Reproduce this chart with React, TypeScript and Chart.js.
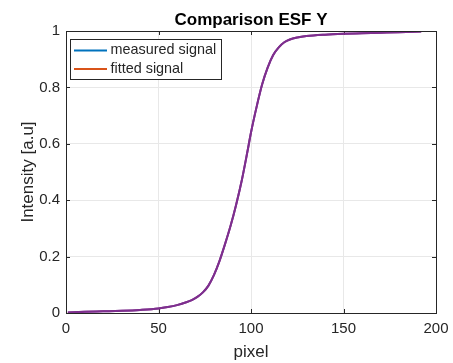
import React, { useEffect, useRef } from "react";
import { Chart, registerables } from "chart.js";

Chart.register(...registerables);

const titleText = "Comparison ESF Y";
const xLabel = "pixel";
const yLabel = "Intensity [a.u]";
const seriesNames = ["measured signal", "fitted signal"];
const legendColors = ["#0072BD", "#D95319"];
const lineColor = "#7E2F8E";

const pixelX = [1, 10, 20, 30, 40, 50, 55, 60, 65, 68, 71, 74, 77, 80, 83, 86, 89, 92, 95, 98, 100, 103, 106, 109, 112, 115, 118, 121, 125, 130, 140, 150, 160, 170, 180, 192];
const measured = [0.002, 0.004, 0.006, 0.008, 0.011, 0.016, 0.021, 0.028, 0.038, 0.046, 0.057, 0.073, 0.097, 0.135, 0.185, 0.245, 0.31, 0.385, 0.47, 0.57, 0.64, 0.73, 0.81, 0.87, 0.915, 0.942, 0.96, 0.97, 0.977, 0.982, 0.987, 0.99, 0.992, 0.994, 0.996, 0.998];
const fitted = [0.002, 0.004, 0.006, 0.008, 0.011, 0.016, 0.021, 0.028, 0.038, 0.046, 0.057, 0.073, 0.097, 0.135, 0.185, 0.245, 0.31, 0.385, 0.47, 0.57, 0.64, 0.73, 0.81, 0.87, 0.915, 0.942, 0.96, 0.97, 0.977, 0.982, 0.987, 0.99, 0.992, 0.994, 0.996, 0.998];

const xTicks = [0, 50, 100, 150, 200];
const yTicks = [0, 0.2, 0.4, 0.6, 0.8, 1];

const FONT = "'Liberation Sans', Arial, Helvetica, sans-serif";
const TEXT = "#262626";

const decorPlugin = {
  id: "decor",
  beforeDatasetsDraw(chart: any) {
    const { ctx, chartArea: a } = chart;
    ctx.save();
    ctx.strokeStyle = "#262626";
    ctx.lineWidth = 1;
    const xs = chart.scales.x;
    const ys = chart.scales.y;
    ctx.beginPath();
    xTicks.forEach((t) => {
      const px = Math.round(xs.getPixelForValue(t)) + 0.5;
      ctx.moveTo(px, a.bottom);
      ctx.lineTo(px, a.bottom - 4);
      ctx.moveTo(px, a.top);
      ctx.lineTo(px, a.top + 4);
    });
    yTicks.forEach((t) => {
      const py = Math.round(ys.getPixelForValue(t)) + 0.5;
      ctx.moveTo(a.left, py);
      ctx.lineTo(a.left + 4, py);
      ctx.moveTo(a.right, py);
      ctx.lineTo(a.right - 4, py);
    });
    ctx.stroke();
    ctx.restore();
  },
  afterDraw(chart: any) {
    const { ctx, chartArea: a } = chart;
    ctx.save();
    ctx.strokeStyle = "#262626";
    ctx.lineWidth = 1;
    ctx.strokeRect(Math.round(a.left) + 0.5, Math.round(a.top) + 0.5, Math.round(a.right - a.left), Math.round(a.bottom - a.top));
    ctx.fillStyle = "#000";
    ctx.font = `bold 17px ${FONT}`;
    ctx.textAlign = "center";
    ctx.textBaseline = "alphabetic";
    ctx.fillText(titleText, (a.left + a.right) / 2, 25);
    ctx.fillStyle = TEXT;
    ctx.font = `17px ${FONT}`;
    ctx.fillText(xLabel, (a.left + a.right) / 2, 357);
    ctx.save();
    ctx.translate(33, (a.top + a.bottom) / 2);
    ctx.rotate(-Math.PI / 2);
    ctx.fillText(yLabel, 0, 0);
    ctx.restore();
    const lx = 70.5, ly = 39.5, lw = 151, lh = 40;
    ctx.fillStyle = "#fff";
    ctx.fillRect(lx, ly, lw, lh);
    ctx.strokeStyle = "#262626";
    ctx.lineWidth = 1;
    ctx.strokeRect(lx, ly, lw, lh);
    ctx.font = `14.4px ${FONT}`;
    ctx.textAlign = "left";
    ctx.textBaseline = "middle";
    seriesNames.forEach((name, i) => {
      const yy = 50.5 + i * 18.5;
      ctx.strokeStyle = legendColors[i];
      ctx.lineWidth = 2;
      ctx.beginPath();
      ctx.moveTo(74, yy);
      ctx.lineTo(107, yy);
      ctx.stroke();
      ctx.fillStyle = TEXT;
      ctx.fillText(name, 110.5, yy);
    });
    ctx.restore();
  },
};

export default function App() {
  const ref = useRef<HTMLCanvasElement | null>(null);
  useEffect(() => {
    if (!ref.current) return;
    const mk = (arr: number[]) => pixelX.map((x, i) => ({ x, y: arr[i] }));
    const chart = new Chart(ref.current, {
      type: "line",
      data: {
        datasets: [
          { label: seriesNames[0], data: mk(measured), borderColor: lineColor, borderWidth: 2, pointRadius: 0, cubicInterpolationMode: "monotone", fill: false },
          { label: seriesNames[1], data: mk(fitted), borderColor: lineColor, borderWidth: 2, pointRadius: 0, cubicInterpolationMode: "monotone", fill: false },
        ],
      },
      options: {
        animation: false,
        responsive: false,
        maintainAspectRatio: false,
        layout: { padding: { left: 0, right: 17, top: 31, bottom: 0 } },
        plugins: { legend: { display: false }, title: { display: false }, tooltip: { enabled: false } },
        scales: {
          x: {
            type: "linear",
            min: 0,
            max: 200,
            afterFit: (s: any) => { s.height = 50; s.paddingRight = 0; s.paddingLeft = 0; },
            afterBuildTicks: (s: any) => { s.ticks = xTicks.map((v) => ({ value: v })); },
            grid: { color: "#e8e8e8", drawTicks: false },
            border: { display: false },
            ticks: { font: { family: FONT, size: 15 }, color: TEXT, padding: 7, maxRotation: 0, callback: (v: any) => String(v) },
          },
          y: {
            type: "linear",
            min: 0,
            max: 1,
            afterFit: (s: any) => { s.width = 66; s.paddingTop = 0; s.paddingBottom = 0; },
            afterBuildTicks: (s: any) => { s.ticks = yTicks.map((v) => ({ value: v })); },
            grid: { color: "#e8e8e8", drawTicks: false },
            border: { display: false },
            ticks: { font: { family: FONT, size: 15 }, color: TEXT, padding: 6, callback: (v: any) => String(Number(Number(v).toFixed(1))) },
          },
        },
      },
      plugins: [decorPlugin],
    });
    return () => chart.destroy();
  }, []);
  return (
    <div style={{ position: "fixed", left: 0, top: 0, width: 453, height: 363, background: "#fff" }}>
      <canvas ref={ref} width={453} height={363} style={{ width: 453, height: 363, display: "block" }} />
    </div>
  );
}
